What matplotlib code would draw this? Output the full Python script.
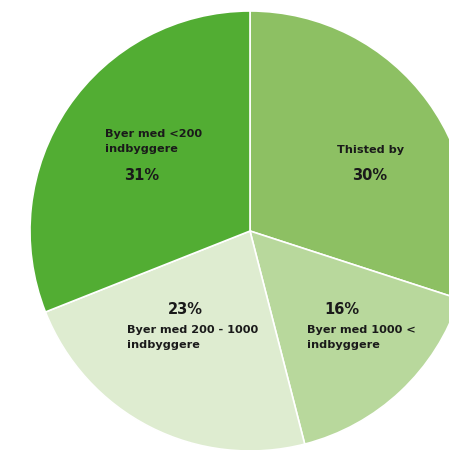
import matplotlib.pyplot as plt

labels = ["Thisted by", "Byer med 1000 <\nindbyggere", "Byer med 200 - 1000\nindbyggere", "Byer med <200\nindbyggere"]
shares = [30, 16, 23, 31]
colors = ["#8dc063", "#b8d89c", "#deecd0", "#52ad33"]

fig = plt.figure(figsize=(4.49, 4.5), dpi=100)
ax = fig.add_axes([0, 0, 1, 1])
ax.pie(shares, colors=colors, startangle=90, counterclock=False,
       wedgeprops=dict(edgecolor="white", linewidth=1.2))
ax.set_aspect("equal")
ax.set_xlim(-250 / 220, 199 / 220)
ax.set_ylim(-219 / 220, 231 / 220)
ax.axis("off")

# label positions (name at left edge, percent centred)
name_pos = [(0.395, 0.368), (0.259, -0.484), (-0.559, -0.484), (-0.659, 0.407)]
pct_pos = [(0.545, 0.25), (0.418, -0.355), (-0.295, -0.355), (-0.491, 0.25)]

for lab, val, (nx, ny), (px, py) in zip(labels, shares, name_pos, pct_pos):
    ax.text(nx, ny, lab, ha="left", va="center", fontsize=8.1, fontweight="bold",
            color="#1a1a1a", linespacing=1.7)
    ax.text(px, py, f"{val}%", ha="center", va="center", fontsize=10.5,
            fontweight="bold", color="#1a1a1a")

fig.savefig("out.png", dpi=100)
